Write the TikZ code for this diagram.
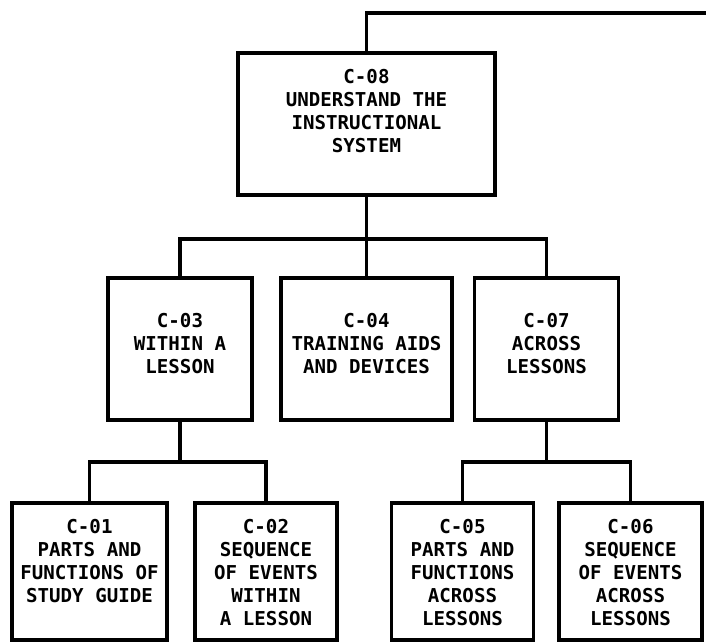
\documentclass[tikz,border=0pt]{standalone}
\usepackage{fontspec}
\newfontfamily\chartfont{DejaVu Sans Mono}
\usetikzlibrary{positioning}
\tikzset{
  taskbox/.style={draw=black,line width=2.5pt,inner sep=0pt,minimum width=#1},
  toprow/.style={minimum height=3.55cm},
  midrow/.style={minimum height=3.55cm},
  lowrow/.style={minimum height=3.425cm},
  tasktext/.style={align=center,inner sep=0pt,font=\chartfont\bfseries\fontsize{13.6}{16.3}\selectfont},
  link/.style={draw=black,line width=2.5pt,line cap=rect,line join=miter},
}

\begin{document}
\begin{tikzpicture}[x=0.025cm,y=-0.025cm]
\useasboundingbox (0,0) rectangle (706,642);
\coordinate (exit) at (706,13);
\coordinate (bus1) at (366.5,239);
\coordinate (bus2) at (180,462);
\coordinate (bus3) at (546.5,462);
\node[taskbox=6.425cm,toprow] (c08) at (366.5,124) {};
\node[taskbox=3.6cm,midrow] (c03) at (180,349) {};
\node[taskbox=4.275cm,midrow] (c04) at (366.5,349) {};
\node[taskbox=3.6cm,midrow] (c07) at (546.5,349) {};
\node[taskbox=3.875cm,lowrow] (c01) at (89.5,571.5) {};
\node[taskbox=3.55cm,lowrow] (c02) at (266,571.5) {};
\node[taskbox=3.55cm,lowrow] (c05) at (462.5,571.5) {};
\node[taskbox=3.575cm,lowrow] (c06) at (630.5,571.5) {};
\draw[link] (c08.north) |- (exit);
\draw[link] (c08.south) -- (c04.north);
\draw[link] (c03.north) |- (bus1) -| (c07.north);
\draw[link] (c03.south) -- (bus2);
\draw[link] (c01.north) |- (bus2) -| (c02.north);
\draw[link] (c07.south) -- (bus3);
\draw[link] (c05.north) |- (bus3) -| (c06.north);
\node[tasktext,below=0.45cm of c08.north] (t08) {C-08\\UNDERSTAND THE\\INSTRUCTIONAL\\SYSTEM};
\node[tasktext,below=0.925cm of c03.north] (t03) {C-03\\WITHIN A\\LESSON};
\node[tasktext,below=0.925cm of c04.north] (t04) {C-04\\TRAINING AIDS\\AND DEVICES};
\node[tasktext,below=0.925cm of c07.north] (t07) {C-07\\ACROSS\\LESSONS};
\node[tasktext,below=0.45cm of c01.north] (t01) {C-01\\PARTS AND\\FUNCTIONS OF\\STUDY GUIDE};
\node[tasktext,below=0.45cm of c02.north] (t02) {C-02\\SEQUENCE\\OF EVENTS\\WITHIN\\A LESSON};
\node[tasktext,below=0.45cm of c05.north] (t05) {C-05\\PARTS AND\\FUNCTIONS\\ACROSS\\LESSONS};
\node[tasktext,below=0.45cm of c06.north] (t06) {C-06\\SEQUENCE\\OF EVENTS\\ACROSS\\LESSONS};
\end{tikzpicture}
\end{document}
